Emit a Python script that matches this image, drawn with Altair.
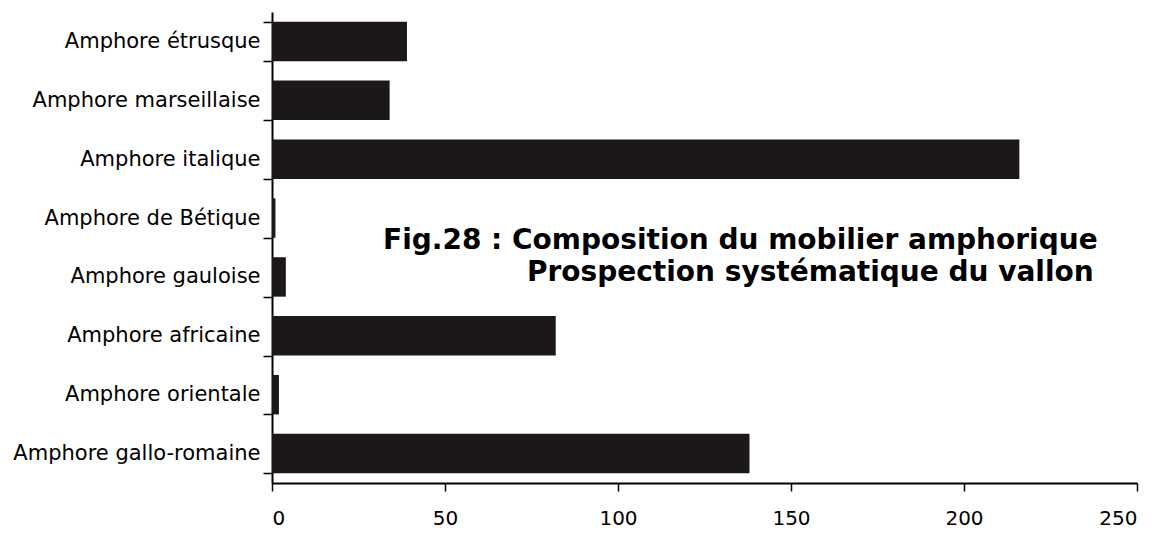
import altair as alt
import pandas as pd

categories = [
    "Amphore étrusque",
    "Amphore marseillaise",
    "Amphore italique",
    "Amphore de Bétique",
    "Amphore gauloise",
    "Amphore africaine",
    "Amphore orientale",
    "Amphore gallo-romaine",
]
values = [39, 34, 216, 1, 4, 82, 2, 138]

title_line1 = "Fig.28 : Composition du mobilier amphorique"
title_line2 = "Prospection systématique du vallon"

df = pd.DataFrame({"cat": categories, "val": values})

LABEL_FONT = "DejaVu Sans"

bars = alt.Chart(df).mark_bar(color="#1c1818").encode(
    x=alt.X(
        "val:Q",
        scale=alt.Scale(domain=[0, 250], nice=False),
        axis=alt.Axis(
            title=None,
            values=[0, 50, 100, 150, 200, 250],
            grid=False,
            domainColor="black",
            domainWidth=2,
            tickColor="black",
            tickWidth=1.5,
            tickSize=8,
            labelPadding=17,
            labelFont=LABEL_FONT,
            labelFontSize=20,
            labelColor="black",
        ),
    ),
    y=alt.Y(
        "cat:N",
        sort=categories,
        scale=alt.Scale(paddingInner=0.33, paddingOuter=0.165),
        axis=alt.Axis(
            title=None,
            tickBand="extent",
            grid=False,
            domainColor="black",
            domainWidth=2,
            tickColor="black",
            tickWidth=1.5,
            tickSize=9,
            labelPadding=3,
            labelLimit=0,
            labelFont=LABEL_FONT,
            labelFontSize=21,
            labelColor="black",
        ),
    ),
)

t1 = alt.Chart(pd.DataFrame({"t": [title_line1]})).mark_text(
    align="left", baseline="middle", font=LABEL_FONT, fontWeight="bold",
    fontSize=28, color="black",
).encode(text="t:N", x=alt.value(111), y=alt.value(229))

t2 = alt.Chart(pd.DataFrame({"t": [title_line2]})).mark_text(
    align="left", baseline="middle", font=LABEL_FONT, fontWeight="bold",
    fontSize=28, color="black",
).encode(text="t:N", x=alt.value(255), y=alt.value(261))

chart = alt.layer(bars, t1, t2).properties(
    width=865,
    height=471,
    autosize=alt.AutoSizeParams(type="none"),
    padding={"left": 264, "top": 4, "right": 17, "bottom": 50},
).configure(background="white").configure_view(stroke=None)

chart.save("out.html", embed_options={"renderer": "svg", "actions": False})
